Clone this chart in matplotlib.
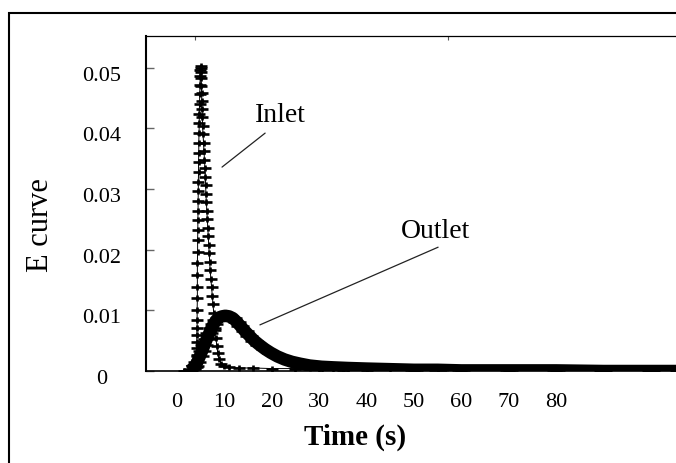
import numpy as np
import matplotlib
matplotlib.use('Agg')
import matplotlib.pyplot as plt
from matplotlib.path import Path
from matplotlib.patches import Rectangle
from matplotlib.transforms import ScaledTranslation

# values (time in s, E in 1/s)
inlet_t = [1.5, 2.5, 3.3, 3.9, 4.15, 4.2, 4.2, 4.2, 4.2, 4.2,
           4.25, 4.25, 4.25, 4.3, 4.3, 4.3, 4.3, 4.35, 4.35, 4.4,
           4.4, 4.45, 4.45, 4.5, 4.5, 4.55, 4.55, 4.6, 4.6, 4.65,
           4.7, 4.7, 4.75, 4.8, 4.85, 4.9, 4.95, 5.0, 5.05, 5.1,
           5.1, 5.15, 5.2, 5.25, 5.3, 5.35, 5.4, 5.5, 5.6, 5.7,
           5.8, 5.9, 6.0, 6.05, 6.1, 6.2, 6.3, 6.4, 6.5, 6.6,
           6.7, 6.8, 6.9, 7.0, 7.15, 7.3, 7.45, 7.6, 7.75, 7.9,
           8.05, 8.2, 8.4, 8.6, 8.9, 9.3, 9.9, 11, 13, 16,
           20, 25, 30, 35, 40, 50, 60, 70, 80, 90,
           100, 106]
inlet_e = [0.0, 0.0001, 0.0003, 0.0005, 0.0007, 0.0018, 0.0026, 0.0038, 0.0048, 0.0059,
           0.0071, 0.0084, 0.0100, 0.0120, 0.0138, 0.0158, 0.0178, 0.0196, 0.0216, 0.0232,
           0.0248, 0.0264, 0.0280, 0.0296, 0.0312, 0.0328, 0.0344, 0.0360, 0.0376, 0.0392,
           0.0408, 0.0424, 0.0440, 0.0456, 0.0472, 0.0486, 0.0496, 0.0503, 0.0500, 0.0492,
           0.0482, 0.0470, 0.0458, 0.0445, 0.0432, 0.0418, 0.0404, 0.0390, 0.0376, 0.0362,
           0.0348, 0.0334, 0.0320, 0.0306, 0.0292, 0.0278, 0.0264, 0.0250, 0.0236, 0.0222,
           0.0208, 0.0194, 0.0180, 0.0166, 0.0152, 0.0138, 0.0124, 0.0110, 0.0096, 0.0082,
           0.0068, 0.0055, 0.0042, 0.0030, 0.0020, 0.0012, 0.0008, 0.0006, 0.0005, 0.0005,
           0.0004, 0.0004, 0.0003, 0.0002, 0.0001, 0.0, 0.0, 0.0, 0.0, 0.0,
           0.0, 0.0]

outlet_t = [2.5, 3.2, 3.8, 4.3, 4.8, 5.3, 5.8, 6.3, 6.8, 7.3,
            7.8, 8.3, 8.8, 9.5, 10.2, 11.0, 11.8, 12.6, 13.4, 14.3,
            15.3, 16.3, 17.4, 18.6, 19.8, 21.2, 22.7, 24.3, 26.0, 28.0,
            30.5, 33.0, 36.0, 40.0, 45.0, 50.0, 55.0, 60.0, 70.0, 80.0,
            90.0, 100.0, 106.0]
outlet_e = [0.0, 0.0003, 0.0008, 0.0015, 0.0024, 0.0033, 0.0043, 0.0053, 0.0062, 0.0071,
            0.0078, 0.0084, 0.0088, 0.0090, 0.0091, 0.0090, 0.0087, 0.0081, 0.0074, 0.0066,
            0.0058, 0.0050, 0.0043, 0.0036, 0.0030, 0.0024, 0.0019, 0.0015, 0.0012, 0.0009,
            0.0007, 0.0006, 0.0005, 0.0004, 0.0003, 0.0002, 0.0002, 0.0001, 0.0001, 0.0001,
            0.0, 0.0, 0.0]

x_ticks = [0, 10, 20, 30, 40, 50, 60, 70, 80]
x_labels = ['0', '10', '20', '30', '40', '50', '60', '70', '80']
y_ticks = [0, 0.01, 0.02, 0.03, 0.04, 0.05]
y_labels = ['0', '0.01', '0.02', '0.03', '0.04', '0.05']

plt.rcParams['font.family'] = ['Liberation Serif', 'DejaVu Serif']

fig = plt.figure(figsize=(6.76, 4.63), dpi=100)
ax = fig.add_axes([146/676, 1 - 371/463, 530/676, 335/463])

# "+" with a longer horizontal bar, like the original markers
plus = Path([(-1, 0), (1, 0), (0, -0.55), (0, 0.55)],
            [Path.MOVETO, Path.LINETO, Path.MOVETO, Path.LINETO])

ax.plot(outlet_t, outlet_e, color='black', lw=9, solid_capstyle='butt', zorder=2)
ax.plot(outlet_t, outlet_e, ls='none', marker=plus, ms=13, mew=1.8, color='black', zorder=2)
ax.plot(inlet_t, inlet_e, color='black', lw=0.7, marker=plus, ms=9, mew=1.9, zorder=3)

ax.set_xlim(-6.54, 105.3)
ax.set_ylim(0, 0.0552)

ax.set_xticks(x_ticks, labels=x_labels)
ax.tick_params(axis='x', which='major', length=0, pad=16, labelsize=16)
ax.set_xticks([3.8, 57.2], minor=True)
ax.tick_params(axis='x', which='minor', direction='in', length=3, width=0.8,
               top=True, bottom=True, color='#555555')

ax.set_yticks(y_ticks, labels=y_labels)
ax.tick_params(axis='y', direction='in', length=6, width=1, color='#666666',
               pad=32, labelsize=16)
shift = ScaledTranslation(0, -0.06, fig.dpi_scale_trans)
for lab in ax.get_yticklabels():
    lab.set_ha('center')
    lab.set_transform(lab.get_transform() + shift)

ax.spines['right'].set_visible(False)
ax.spines['left'].set_linewidth(1.5)
ax.spines['bottom'].set_linewidth(1.2)
ax.spines['top'].set_linewidth(0.9)

ax.set_xlabel('Time (s)', fontsize=21, fontweight='bold')
ax.xaxis.set_label_coords((355 - 146) / 530, (371 - 437) / 335)
ax.xaxis.label.set_va('center')
ax.set_ylabel('E curve', fontsize=22)
ax.yaxis.set_label_coords((40 - 146) / 530, (371 - 225) / 335)
ax.yaxis.label.set_va('center')

ax.text(21.9, 0.0410, 'Inlet', fontsize=20, ha='center', va='baseline')
ax.annotate('', xy=(9.5, 0.0336), xytext=(18.6, 0.0392),
            arrowprops=dict(arrowstyle='-', color='#222222', lw=0.9, shrinkA=0, shrinkB=0))
ax.text(54.6, 0.0219, 'Outlet', fontsize=20, ha='center', va='baseline')
ax.annotate('', xy=(17.5, 0.0076), xytext=(55.1, 0.0204),
            arrowprops=dict(arrowstyle='-', color='#222222', lw=0.9, shrinkA=0, shrinkB=0))

# outer frame of the figure, running off the right and bottom edges
fig.add_artist(Rectangle((9/676, -0.1), 1.2, 1.1 - 13/463, transform=fig.transFigure,
                         fill=False, lw=1.5, ec='black'))

fig.savefig('out.png', dpi=100)
